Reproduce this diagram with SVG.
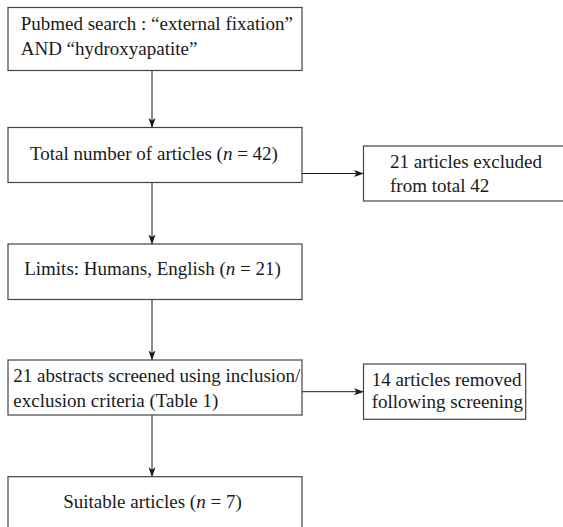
<svg xmlns="http://www.w3.org/2000/svg" width="563" height="527" viewBox="0 0 563 527">
<style>
.box{fill:#fff;stroke:#444;stroke-width:1.2}
.t{font-family:"Liberation Serif","Times New Roman",serif;font-size:19px;fill:#1a1a1a}
.c{text-anchor:middle}
.ln{stroke:#1a1a1a;stroke-width:1;fill:none;marker-end:url(#ah)}
</style>
<defs>
<marker id="ah" markerWidth="10" markerHeight="8" refX="9.5" refY="4" orient="auto" markerUnits="userSpaceOnUse">
<path d="M0,0.5 L10,4 L0,7.5 L2.5,4 Z" fill="#1a1a1a"/>
</marker>
</defs>
<rect width="563" height="527" fill="#fff"/>
<g id="connectors">
<line class="ln" x1="152" y1="70.5" x2="152" y2="127.5"/>
<line class="ln" x1="152" y1="182.5" x2="152" y2="244"/>
<line class="ln" x1="302" y1="173.5" x2="363.5" y2="173.5"/>
<line class="ln" x1="152" y1="299.5" x2="152" y2="360"/>
<line class="ln" x1="302" y1="391.7" x2="363.5" y2="391.7"/>
<line class="ln" x1="152" y1="415" x2="152" y2="476.7"/>
</g>
<g id="n1">
<rect class="box" x="8" y="7.5" width="294" height="63"/>
<text class="t" x="20.7" y="29.5">Pubmed search : “external fixation”</text>
<text class="t" x="20.7" y="54.5">AND “hydroxyapatite”</text>
</g>
<g id="n2">
<rect class="box" x="8" y="127.5" width="294" height="55"/>
<text class="t c" x="154" y="160">Total number of articles (<tspan font-style="italic">n</tspan> = 42)</text>
</g>
<g id="n3">
<rect class="box" x="363.5" y="146" width="205" height="55"/>
<text class="t" x="390" y="167.5">21 articles excluded</text>
<text class="t" x="390" y="192">from total 42</text>
</g>
<g id="n4">
<rect class="box" x="8" y="244" width="294" height="55.5"/>
<text class="t c" x="152.5" y="275">Limits: Humans, English (<tspan font-style="italic">n</tspan> = 21)</text>
</g>
<g id="n5">
<rect class="box" x="8" y="360" width="294" height="55"/>
<text class="t" x="13.3" y="381.7">21 abstracts screened using inclusion/</text>
<text class="t" x="13.3" y="406.7">exclusion criteria (Table 1)</text>
</g>
<g id="n6">
<rect class="box" x="363.5" y="364" width="162.2" height="55.3"/>
<text class="t" x="371.7" y="386">14 articles removed</text>
<text class="t" x="371.7" y="408">following screening</text>
</g>
<g id="n7">
<rect class="box" x="8" y="476.7" width="294" height="70"/>
<text class="t c" x="152.5" y="508.3">Suitable articles (<tspan font-style="italic">n</tspan> = 7)</text>
</g>
</svg>
